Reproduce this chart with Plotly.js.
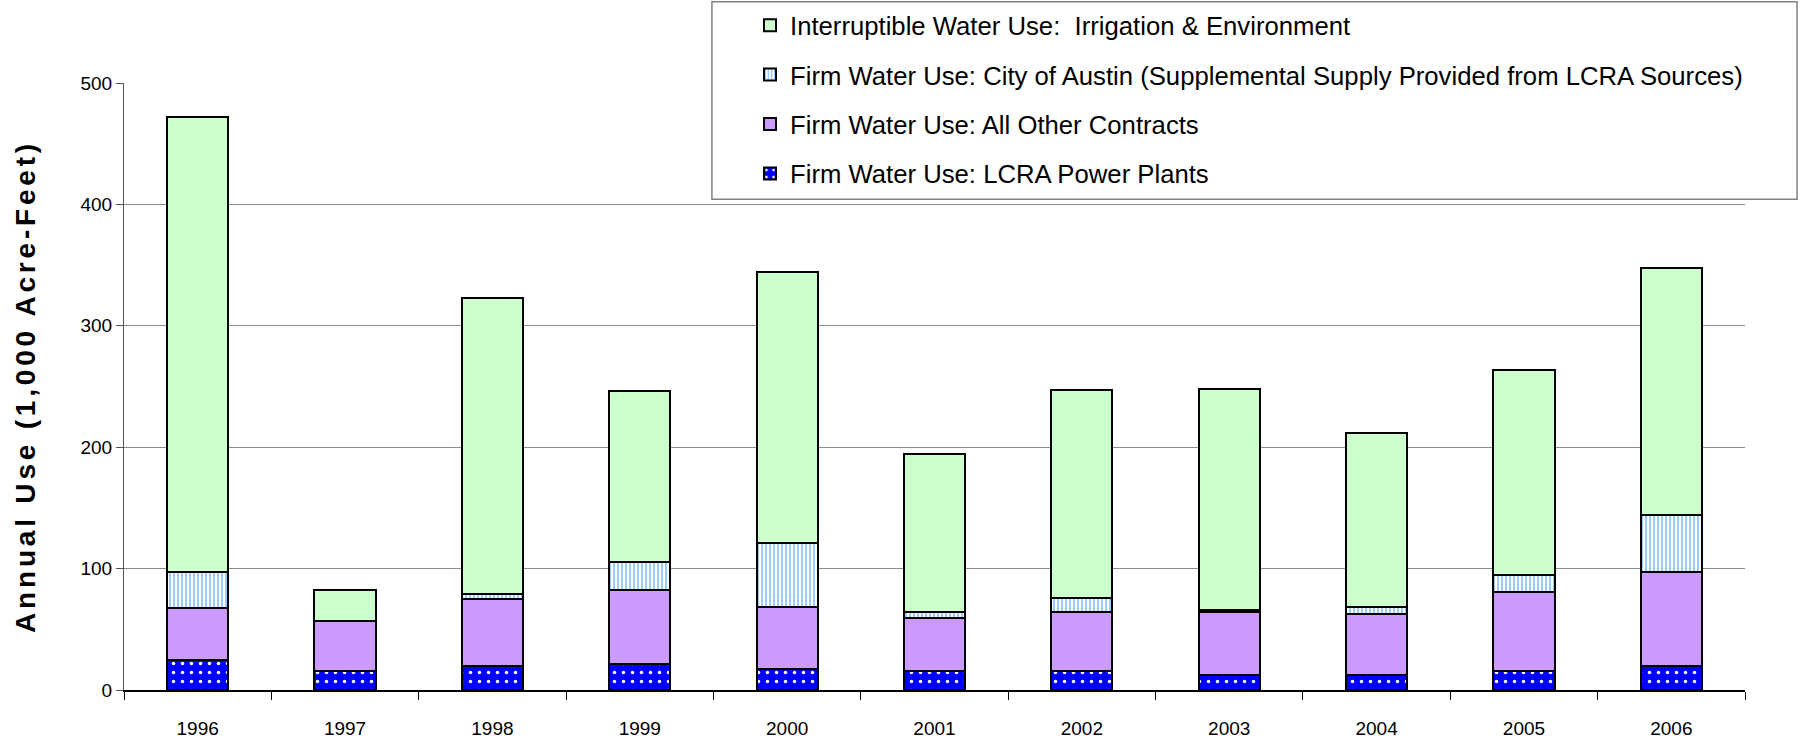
<!DOCTYPE html>
<html>
<head>
<meta charset="utf-8">
<script src="https://cdn.plot.ly/plotly-3.0.1.min.js"></script>
<style>
  html, body { margin: 0; padding: 0; background: #fff; }
  #chart { width: 1800px; height: 749px; }
  .g-ytitle text { letter-spacing: 3.8px; }
  g.legend { transform: translate(750px, 2px); }
</style>
</head>
<body>
<div id="chart"></div>
<script>
// Data (thousand acre-feet)
const years = ['1996','1997','1998','1999','2000','2001','2002','2003','2004','2005','2006'];
const powerPlants = [25, 16, 20, 21.5, 17.5, 16, 16, 12.5, 12.5, 16, 20];
const otherContracts = [42.5, 41, 55, 61, 50.5, 43, 48.5, 51.5, 50, 64.5, 77];
const cityOfAustin = [30, 0, 4, 23, 53, 5.5, 11, 2, 5.5, 14, 47.5];
const interruptible = [374.5, 25, 244, 141, 223.5, 130, 172, 182, 144, 169, 203];
const yTicks = [0, 100, 200, 300, 400, 500];

const seriesNames = [
  'Firm Water Use: LCRA Power Plants',
  'Firm Water Use: All Other Contracts',
  'Firm Water Use: City of Austin (Supplemental Supply Provided from LCRA Sources)',
  'Interruptible Water Use:  Irrigation & Environment'
];

const outline = { color: '#000000', width: 2 };

const traces = [
  {
    type: 'bar', x: years, y: powerPlants, name: seriesNames[0], legendgroup: 'a', legendrank: 4,
    marker: { color: '#0000FF', line: outline,
      pattern: { shape: '.', fgcolor: '#FFFFFF', bgcolor: '#0000FF', size: 9, solidity: 0.12 } }
  },
  {
    type: 'bar', x: years, y: otherContracts, name: seriesNames[1], legendgroup: 'b', legendrank: 3,
    marker: { color: '#CC99FF', line: outline }
  },
  {
    type: 'bar', x: years, y: cityOfAustin, name: seriesNames[2], legendgroup: 'c', legendrank: 2,
    marker: { color: '#FFFFFF', line: outline,
      pattern: { shape: '|', fgcolor: '#99CCFF', bgcolor: '#FFFFFF', size: 4, solidity: 0.5 } }
  },
  {
    type: 'bar', x: years, y: interruptible, name: seriesNames[3], legendgroup: 'd', legendrank: 1,
    marker: { color: '#CCFFCC', line: outline }
  }
];

const layout = {
  width: 1800, height: 749,
  margin: { l: 124, r: 55, t: 83, b: 59 },
  paper_bgcolor: '#FFFFFF', plot_bgcolor: '#FFFFFF',
  barmode: 'stack',
  bargap: 0.585,
  font: { family: 'Liberation Sans, Arial, sans-serif', color: '#000000', size: 19 },
  xaxis: {
    type: 'category',
    range: [-0.5, 10.5],
    tickson: 'boundaries',
    ticks: 'outside', ticklen: 8, tickcolor: '#000000', tickwidth: 1,
    showline: true, linecolor: '#000000', linewidth: 1.5,
    showgrid: false,
    tickfont: { size: 19 },
    ticklabelstandoff: 21
  },
  yaxis: {
    range: [0, 500],
    tickvals: yTicks,
    ticks: 'outside', ticklen: 7, tickcolor: '#555555',
    showline: true, linecolor: '#555555', linewidth: 1,
    showgrid: true, gridcolor: '#8C8C8C', gridwidth: 1,
    zeroline: false,
    tickfont: { size: 19 },
    title: { text: 'Annual Use (1,000 Acre-Feet)', font: { size: 28, family: 'Liberation Sans, Arial, sans-serif', weight: 'bold' }, standoff: 36 }
  },
  shapes: [{
    type: 'rect', xref: 'paper', yref: 'paper', layer: 'above',
    x0: 0.3627, x1: 1.0321, y0: 0.8085, y1: 1.134,
    fillcolor: '#FFFFFF', line: { color: '#808080', width: 1.5 }
  }],
  showlegend: true,
  legend: {
    x: 0.386, xanchor: 'left',
    y: 1, yanchor: 'top',
    bgcolor: 'rgba(0,0,0,0)', borderwidth: 0,
    traceorder: 'grouped',
    tracegroupgap: 13,
    font: { family: 'Liberation Sans, Arial, sans-serif', size: 25.7, color: '#000000' }
  }
};

Plotly.newPlot('chart', traces, layout, { displayModeBar: false, staticPlot: true });
</script>
</body>
</html>
